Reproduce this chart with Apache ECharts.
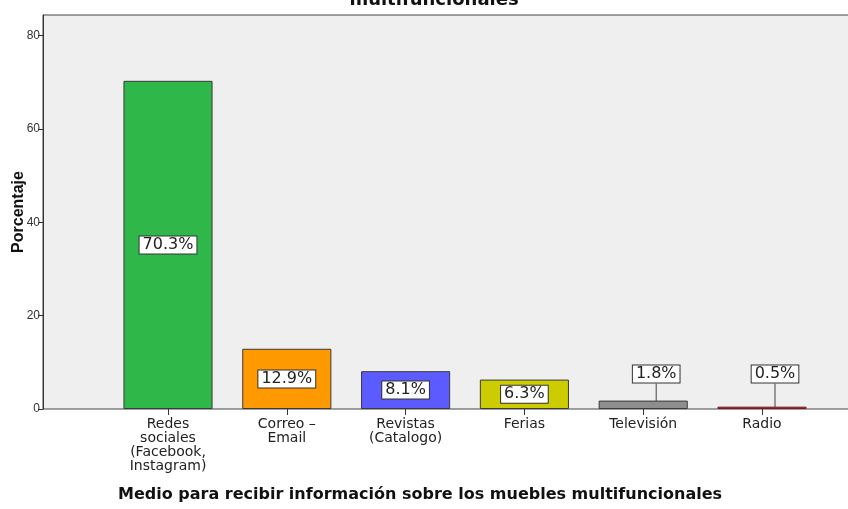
<!DOCTYPE html>
<html>
<head>
<meta charset="utf-8">
<script src="https://cdn.jsdelivr.net/npm/echarts@6/dist/echarts.min.js"></script>
<style>
html,body{margin:0;padding:0;background:#fff;}
#chart{width:848px;height:509px;}
</style>
</head>
<body>
<div id="chart"></div>
<script>
const categories = ['Redes\nsociales\n(Facebook,\nInstagram)', 'Correo –\nEmail', 'Revistas\n(Catalogo)', 'Ferias', 'Televisión', 'Radio'];
const values = [70.3, 12.9, 8.1, 6.3, 1.8, 0.5];
const barColors = ['#30b74a', '#ff9900', '#5b5bff', '#cccc00', '#8e8e8e', '#b02323'];
const barBorders = ['#3a3a3a', '#3a3a3a', '#3a3a3a', '#3a3a3a', '#3a3a3a', '#7a1a1a'];
const yTicks = [0, 20, 40, 60, 80];
const titleText = 'Medio para recibir información sobre los muebles\nmultifuncionales';
const xAxisTitle = 'Medio para recibir información sobre los muebles multifuncionales';
const yAxisTitle = 'Porcentaje';

const chart = echarts.init(document.getElementById('chart'), null, {renderer: 'canvas'});
const yMax = 84.4;
const option = {
  animation: false,
  backgroundColor: '#ffffff',
  title: [
    {text: titleText, left: 429, textAlign: 'center', top: -36,
     textStyle: {fontFamily: 'DejaVu Sans', fontWeight: 'bold', fontSize: 18, lineHeight: 21, color: '#111'}},
    {text: xAxisTitle, left: 415, textAlign: 'center', top: 482,
     textStyle: {fontFamily: 'DejaVu Sans', fontWeight: 'bold', fontSize: 16, color: '#111'}}
  ],
  grid: [
    {left: 43, right: -2, top: 15, bottom: 100, show: true, backgroundColor: '#efefef', borderColor: '#444', borderWidth: 1, outerBoundsMode: 'none', containLabel: false},
    {left: 108.6, right: 26.6, top: 15, bottom: 100, outerBoundsMode: 'none', containLabel: false}
  ],
  xAxis: [
    {gridIndex: 0, type: 'value', show: false},
    {gridIndex: 1, type: 'category', data: categories,
     axisLine: {show: false},
     axisTick: {show: true, alignWithLabel: true, length: 6, lineStyle: {color: '#333'}},
     axisLabel: {interval: 0, margin: 8, fontFamily: 'DejaVu Sans', fontSize: 14, lineHeight: 14, color: '#222'}}
  ],
  yAxis: [
    {gridIndex: 0, type: 'value', min: 0, max: yMax, interval: 20,
     name: yAxisTitle, nameLocation: 'middle', nameGap: 16, nameRotate: 90, nameMoveOverlap: false,
     nameTextStyle: {fontFamily: 'Liberation Sans', fontWeight: 'bold', fontSize: 16, color: '#111'},
     axisLine: {show: true, lineStyle: {color: '#333'}},
     axisTick: {show: true, length: 5, customValues: yTicks, lineStyle: {color: '#333'}},
     axisLabel: {customValues: yTicks, margin: 3, fontFamily: 'Liberation Sans', fontSize: 12, color: '#333'},
     splitLine: {show: false}},
    {gridIndex: 1, type: 'value', min: 0, max: yMax, show: false}
  ],
  series: [{
    type: 'bar',
    xAxisIndex: 1, yAxisIndex: 1,
    barWidth: '75%',
    data: values.map((v, i) => ({value: v, itemStyle: {color: barColors[i], borderColor: barBorders[i]}})),
    itemStyle: {borderWidth: 1},
    label: {
      show: true, position: 'inside',
      formatter: p => p.value.toFixed(1) + '%',
      fontFamily: 'DejaVu Sans', fontSize: 16, color: '#222',
      backgroundColor: '#fff', borderColor: '#333', borderWidth: 1, padding: [1, 3, 0, 3]
    },
    labelLine: {show: true, lineStyle: {color: '#444', width: 1}},
    labelLayout: function (p) {
      if (values[p.dataIndex] < 3) {
        return {
          x: p.rect.x + p.rect.width / 2 + 13,
          y: p.rect.y + p.rect.height - 35,
          align: 'center',
          verticalAlign: 'middle'
        };
      }
      return {};
    }
  }]
};
chart.setOption(option);
</script>
</body>
</html>
